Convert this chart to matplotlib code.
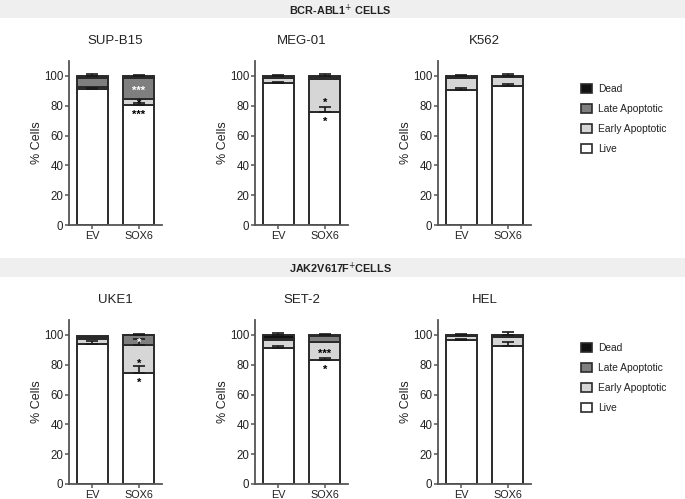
import matplotlib
matplotlib.use("Agg")
import matplotlib.pyplot as plt
from matplotlib.patches import Rectangle, Patch
import numpy as np

plt.rcParams['font.family'] = ['Liberation Sans', 'DejaVu Sans']

# ---------------- data ----------------
cells = ["SUP-B15", "MEG-01", "K562", "UKE1", "SET-2", "HEL"]
groups = ["EV", "SOX6"]
row_titles = ["BCR-ABL1$^{+}$ CELLS", "JAK2V617F$^{+}$CELLS"]
segments = ["Live", "Early Apoptotic", "Late Apoptotic", "Dead"]

# segment sizes (% cells) per cell line: [EV, SOX6]
live = [[91.0, 80.5], [95.0, 76.0], [90.5, 93.0], [94.0, 74.5], [91.0, 83.0], [96.5, 92.5]]
early = [[1.8, 4.0], [3.5, 22.0], [8.0, 6.2], [3.0, 18.8], [5.5, 12.0], [3.0, 6.0]]
late = [[5.6, 14.0], [0.5, 1.0], [0.3, 0.3], [0.7, 6.4], [0.8, 4.5], [0.2, 0.6]]
dead = [[1.6, 1.5], [1.0, 1.0], [1.2, 0.5], [1.5, 0.3], [2.7, 0.5], [0.3, 0.9]]

# upward error (SD) of each segment
live_err = [[1.0, 1.5], [0.6, 3.0], [1.5, 1.8], [1.7, 4.5], [1.8, 1.2], [0.8, 3.0]]
early_err = [[0.0, 0.0], [0.0, 0.0], [0.0, 0.0], [0.0, 4.0], [0.0, 0.0], [0.0, 0.0]]
late_err = [[0.0, 0.0], [0.0, 0.0], [0.0, 0.0], [0.0, 0.0], [0.0, 0.0], [0.0, 0.0]]
dead_err = [[1.0, 0.8], [0.8, 1.0], [0.8, 1.2], [0.0, 0.6], [1.2, 0.6], [0.5, 1.8]]

# significance marks for SOX6: (cell index, segment, label, colour)
stars = [
    (0, "Live", "***", "black"), (0, "Early Apoptotic", "*", "black"), (0, "Late Apoptotic", "***", "white"),
    (1, "Live", "*", "black"), (1, "Early Apoptotic", "*", "black"),
    (3, "Live", "*", "black"), (3, "Early Apoptotic", "*", "black"), (3, "Late Apoptotic", "*", "white"),
    (4, "Live", "*", "black"), (4, "Early Apoptotic", "***", "black"),
]

colors = {"Live": "#ffffff", "Early Apoptotic": "#d6d6d6", "Late Apoptotic": "#7f7f7f", "Dead": "#111111"}
edge = "#2a2a2a"

W, H = 685, 499
fig = plt.figure(figsize=(W / 100, H / 100), dpi=100)

# banners
for (y0, y1), title in zip([(0, 18), (258, 277)], row_titles):
    fig.patches.append(Rectangle((0, 1 - y1 / H), 1, (y1 - y0) / H, transform=fig.transFigure,
                                 facecolor="#efefef", edgecolor="none", zorder=0))
    fig.text(0.497, 1 - ((y0 + y1) / 2 + 1) / H, title, ha="center", va="center",
             fontsize=7.8, fontweight="bold", color="#222222")

lefts = [69, 255, 438]
bottoms = [225, 484]
ax_w = 93
ax_h = 164

data = [live, early, late, dead]
errs = [live_err, early_err, late_err, dead_err]
x = np.arange(len(groups))
bw = 0.67

for i, cell in enumerate(cells):
    r, c = divmod(i, 3)
    ax = fig.add_axes([lefts[c] / W, 1 - bottoms[r] / H, ax_w / W, ax_h / H])
    bottom = np.zeros(2)
    tops = {}
    for seg, vals, ev in zip(segments, data, errs):
        v = np.array(vals[i])
        ax.bar(x, v, bw, bottom=bottom, color=colors[seg], edgecolor=edge, linewidth=1.4, zorder=2)
        tops[seg] = (bottom.copy(), bottom + v)
        e = np.array(ev[i])
        for j in range(2):
            if e[j] > 0:
                ax.errorbar(x[j], (bottom + v)[j], yerr=[[0], [e[j]]], fmt="none", ecolor="#1a1a1a",
                            elinewidth=1.2, capsize=4, capthick=1.2, zorder=3)
        bottom = bottom + v
    for (ci, seg, lab, col) in stars:
        if ci != i:
            continue
        b, t = tops[seg][0][1], tops[seg][1][1]
        if seg == "Live":
            yy = t - 6.5
        else:
            yy = b + min((t - b) / 2, 7.5) - 1.5
        ax.text(x[1], yy, lab, ha="center", va="center", fontsize=8, color=col, fontweight="bold", zorder=4)

    ax.set_xlim(-0.5, 1.5)
    ax.set_ylim(0, 110)
    ax.set_yticks([0, 20, 40, 60, 80, 100])
    ax.set_xticks(x)
    ax.set_xticklabels(groups)
    for s in ["top", "right"]:
        ax.spines[s].set_visible(False)
    for s in ["left", "bottom"]:
        ax.spines[s].set_color("#555555")
        ax.spines[s].set_linewidth(1.3)
    ax.tick_params(axis="y", labelsize=8.3, length=3, width=1.1, color="#555555", pad=1.0,
                   labelcolor="#222222")
    ax.tick_params(axis="x", labelsize=7.8, length=3, width=1.1, color="#555555", pad=1.0,
                   labelcolor="#222222")
    ax.set_ylabel("% Cells", fontsize=9, color="#222222", labelpad=0.5)
    ax.set_title(cell, fontsize=9.5, color="#222222", pad=12)

    if c == 2:
        handles = [Patch(facecolor=colors[s], edgecolor=edge, linewidth=1.2, label=s)
                   for s in segments[::-1]]
        ax.legend(handles=handles, loc="upper left",
                  bbox_to_anchor=(572 / W, 1 - (75 + (bottoms[r] - 225)) / H),
                  bbox_transform=fig.transFigure, frameon=False, fontsize=7.4,
                  handlelength=1.0, handleheight=1.0, labelspacing=0.95, handletextpad=0.6,
                  labelcolor="#222222")

fig.savefig("out.png", dpi=100)
